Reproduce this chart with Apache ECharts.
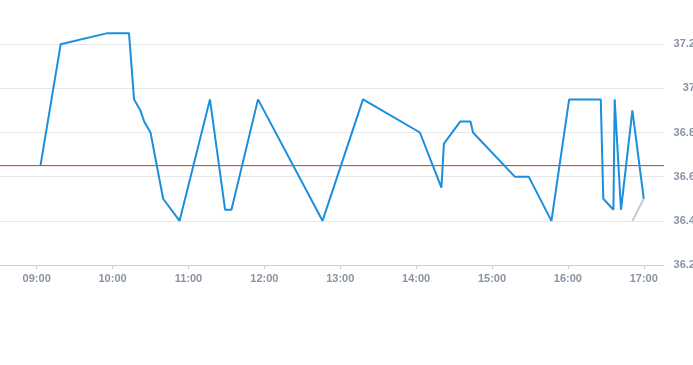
<!DOCTYPE html>
<html>
<head>
<meta charset="utf-8">
<script src="https://cdn.jsdelivr.net/npm/echarts@6/dist/echarts.min.js"></script>
<style>html,body{margin:0;padding:0;background:#fff;}#c{width:693px;height:365px;}</style>
</head>
<body>
<div id="c"></div>
<script>
var day = '2024-01-01 ';
var times = ['09:03','09:19','09:56','10:13','10:17','10:22','10:25','10:30','10:40','10:53','11:17','11:29','11:34','11:55','12:46','13:18','14:03','14:20','14:22','14:35','14:43','14:45','15:18','15:29','15:47','16:01','16:26','16:28','16:36','16:37','16:42','16:51','17:00'];
var temps = [36.65,37.2,37.25,37.25,36.95,36.9,36.85,36.8,36.5,36.4,36.95,36.45,36.45,36.95,36.4,36.95,36.8,36.55,36.75,36.85,36.85,36.8,36.6,36.6,36.4,36.95,36.95,36.5,36.45,36.95,36.45,36.9,36.5];
var grayTimes = ['16:51','17:00'];
var grayTemps = [36.4,36.5];
var refLine = 36.65;
var yTicks = [36.2,36.4,36.6,36.8,37,37.2,37.4];
var xMin = '08:31', xMax = '17:16';

function pts(t, v){ return t.map(function(s,i){ return [day + s, v[i]]; }); }

var chart = echarts.init(document.getElementById('c'));
var labelStyle = { color: '#8a93a3', fontSize: 11, fontWeight: 'bold', fontFamily: 'Liberation Sans, Arial, sans-serif' };
chart.setOption({
  animation: false,
  grid: { left: 0, right: 29, top: 0, bottom: 100, containLabel: false, outerBoundsMode: 'none' },
  xAxis: {
    type: 'time',
    min: day + xMin,
    max: day + xMax,
    minInterval: 3600000,
    maxInterval: 3600000,
    axisLine: { lineStyle: { color: '#ccd0d8' } },
    axisTick: { show: true, length: 4, lineStyle: { color: '#ccd0d8' } },
    splitLine: { show: false },
    axisLabel: Object.assign({ formatter: '{HH}:{mm}', margin: 8 }, labelStyle)
  },
  yAxis: {
    type: 'value',
    position: 'right',
    min: yTicks[0],
    max: yTicks[yTicks.length-1],
    interval: 0.2,
    axisLine: { show: false },
    axisTick: { show: false },
    splitLine: { show: true, showMaxLine: false, lineStyle: { color: '#e6e6e6' } },
    axisLabel: Object.assign({ align: 'right', margin: 31, showMaxLabel: false,
      formatter: function(v){ return String(Math.round(v*10)/10); } }, labelStyle)
  },
  series: [
    {
      type: 'line',
      data: [[day + xMin, refLine], [day + xMax, refLine]],
      showSymbol: false,
      silent: true,
      lineStyle: { color: '#d0342c', width: 1 },
      itemStyle: { color: '#d0342c' },
      z: 2
    },
    {
      type: 'line',
      data: pts(grayTimes, grayTemps),
      showSymbol: false,
      lineStyle: { color: '#c3cad2', width: 2 },
      itemStyle: { color: '#c3cad2' },
      z: 1
    },
    {
      type: 'line',
      data: pts(times, temps),
      showSymbol: false,
      lineStyle: { color: '#1b8fde', width: 2 },
      itemStyle: { color: '#1b8fde' },
      z: 3
    }
  ]
});
</script>
</body>
</html>
